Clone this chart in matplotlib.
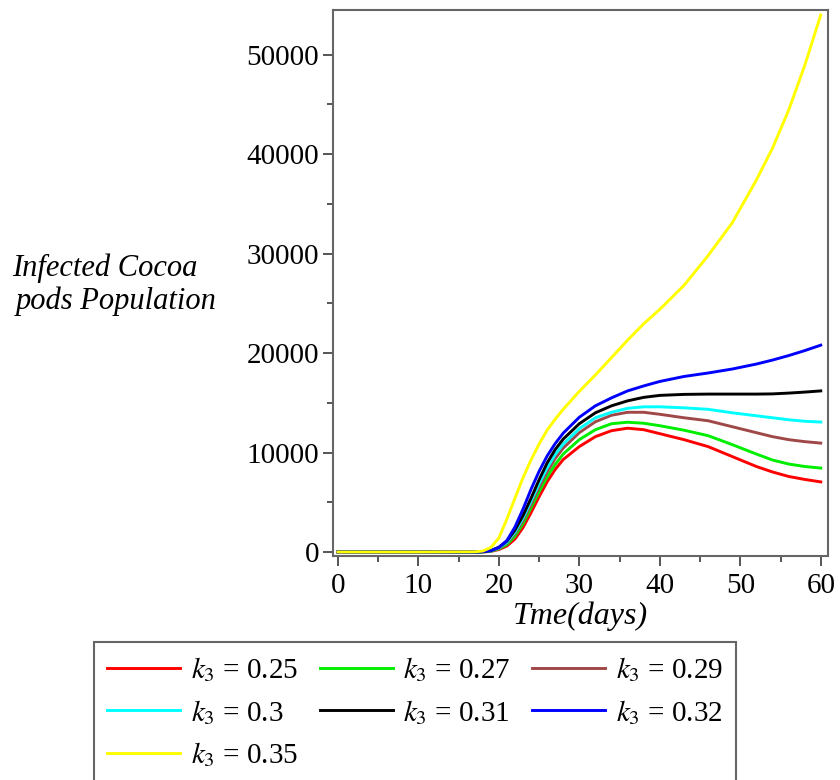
import matplotlib
matplotlib.use("Agg")
import matplotlib.pyplot as plt
import numpy as np

plt.rcParams['font.family'] = ['Liberation Serif', 'DejaVu Serif']
plt.rcParams['mathtext.fontset'] = 'stix'

# time points (days)
t = [0, 10, 17, 18, 19, 20, 21, 22, 23, 24, 25, 26, 27, 28, 30, 32, 34, 36,
     38, 40, 43, 46, 49, 52, 54, 56, 58, 60]

# infected cocoa pods for each k3
k025 = [0, 0, 0, 10, 60, 250, 600, 1300, 2450, 3950, 5550, 7050, 8300, 9300,
        10600, 11600, 12200, 12450, 12300, 11900, 11300, 10600, 9600, 8600,
        8050, 7600, 7300, 7050]
k027 = [0, 0, 0, 15, 80, 320, 750, 1600, 2850, 4450, 6050, 7550, 8800, 9850,
        11300, 12300, 12900, 13050, 12950, 12700, 12250, 11700, 10800, 9850,
        9250, 8850, 8600, 8440]
k029 = [0, 0, 0, 20, 100, 380, 900, 1850, 3150, 4800, 6500, 8050, 9400, 10450,
        12000, 13100, 13750, 14050, 14050, 13850, 13500, 13200, 12600, 12000,
        11600, 11300, 11100, 10950]
k030 = [0, 0, 0, 25, 110, 420, 980, 2000, 3400, 5100, 6850, 8450, 9800, 10850,
        12400, 13500, 14050, 14450, 14600, 14600, 14500, 14350, 14000, 13700,
        13500, 13300, 13150, 13070]
k031 = [0, 0, 0, 30, 130, 480, 1100, 2200, 3650, 5400, 7250, 8950, 10300, 11350,
        12900, 14000, 14700, 15200, 15550, 15750, 15850, 15880, 15880, 15880,
        15900, 15980, 16080, 16200]
k032 = [0, 0, 0, 40, 150, 450, 1150, 2500, 4300, 6300, 8100, 9650, 10900, 11950,
        13550, 14700, 15500, 16200, 16700, 17150, 17650, 18000, 18400, 18900,
        19300, 19750, 20250, 20800]
k035 = [0, 0, 20, 100, 450, 1400, 3300, 5400, 7450, 9250, 10850, 12250, 13350,
        14350, 16150, 17800, 19550, 21300, 22950, 24400, 26800, 29800, 33100,
        37400, 40600, 44400, 48900, 54000]

series = [k025, k027, k029, k030, k031, k032, k035]
k_vals = ['0.25', '0.27', '0.29', '0.3', '0.31', '0.32', '0.35']
colors = ['#ff0000', '#00ee00', '#a04848', '#00ffff', '#000000', '#0000ff', '#ffff00']

fig = plt.figure(figsize=(8.4, 7.8), dpi=100)
ax = fig.add_axes([333/840, 1-556/780, 495/840, 546/780])

lines = []
for y, k, c in zip(series, k_vals, colors):
    ln, = ax.plot(t, y, color=c, lw=2.1, label=r'$k_3$ = ' + k)
    lines.append(ln)

ax.set_xlim(-0.6, 60.9)
ax.set_ylim(-400, 54500)
ax.set_xticks([0, 10, 20, 30, 40, 50, 60])
ax.set_xticks(np.arange(5, 60, 10), minor=True)
ax.set_yticks([0, 10000, 20000, 30000, 40000, 50000])
ax.set_yticks(np.arange(5000, 55000, 10000), minor=True)

for s in ax.spines.values():
    s.set_color('#666666')
    s.set_linewidth(1.5)
ax.tick_params(which='major', length=7, width=1.4, color='#555555',
               labelsize=21, pad=5)
ax.tick_params(which='minor', length=4.5, width=1.4, color='#555555')
ax.tick_params(axis='y', which='major', length=7, pad=3)

ax.set_xlabel('Tme(days)', fontsize=23, style='italic', labelpad=2)

fig.text(12/840, 1-268/780, 'Infected Cocoa', fontsize=22, style='italic',
         ha='left', va='center')
fig.text(16/840, 1-301/780, 'pods Population', fontsize=22, style='italic',
         ha='left', va='center')

# legend filled row by row like the original
order = [0, 3, 6, 1, 4, 2, 5]
leg = fig.legend([lines[i] for i in order], [lines[i].get_label() for i in order],
                 loc='upper left', bbox_to_anchor=(94/840, 1-642/780), ncol=3,
                 fontsize=21, frameon=True, fancybox=False, framealpha=1,
                 edgecolor='#666666', handlelength=2.5, handletextpad=0.36,
                 columnspacing=0.75, labelspacing=0.47, borderpad=0.45,
                 borderaxespad=0)
leg.get_frame().set_linewidth(1.5)

fig.savefig('out.png', dpi=100)
